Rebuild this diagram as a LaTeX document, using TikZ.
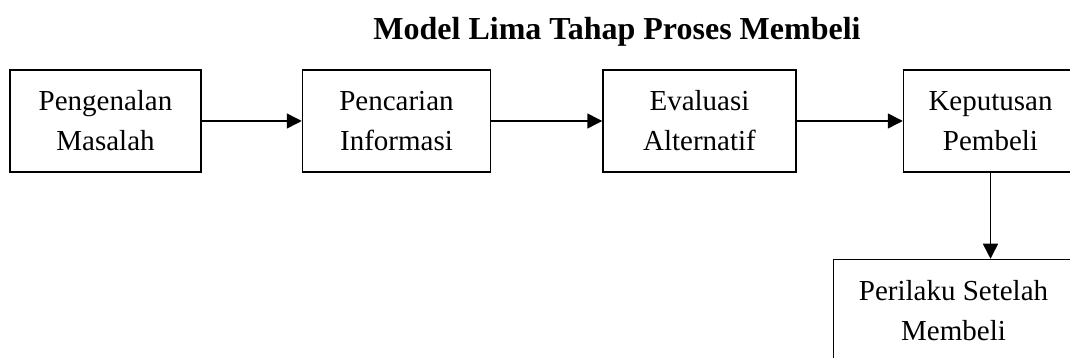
\documentclass[tikz,border=0pt]{standalone}
\usepackage{fontspec}
\setmainfont{Liberation Serif}
\usepackage{tikz}
\usetikzlibrary{arrows.meta, positioning}
\tikzstyle{tahap} = [rectangle, draw=black, line width=1.5pt, align=center, inner sep=0pt, minimum height=102pt, font=\fontsize{29}{40}\selectfont]
\tikzstyle{arrow} = [line width=1.5pt, -{Triangle[length=15pt,width=15pt]}]

\begin{document}
\begin{tikzpicture}[x=1pt, y=1pt, node distance=100pt]
\path[use as bounding box, clip] (0,0) rectangle (1070,358);

% Judul
\node (judul) [anchor=base, font=\fontsize{32}{38}\selectfont\bfseries] at (617,318) {Model Lima Tahap Proses Membeli};

% Tahapan
\node (kenal) [tahap, minimum width=191pt] at (105.5,237) {Pengenalan\\Masalah};
\node (cari) [tahap, minimum width=188pt, right=100pt of kenal] {Pencarian\\Informasi};
\node (evaluasi) [tahap, minimum width=193pt, right=111pt of cari] {Evaluasi\\Alternatif};
\node (putus) [tahap, minimum width=174pt, right=106pt of evaluasi] {Keputusan\\Pembeli};
\node (perilaku) [tahap, minimum width=240pt, below=86pt of putus, xshift=-37pt] {Perilaku Setelah\\Membeli};

% Panah
\draw [arrow] (kenal) -- (cari);
\draw [arrow] (cari) -- (evaluasi);
\draw [arrow] (evaluasi) -- (putus);
\draw [arrow] (putus.south) -- (putus.south |- perilaku.north);

\end{tikzpicture}
\end{document}
